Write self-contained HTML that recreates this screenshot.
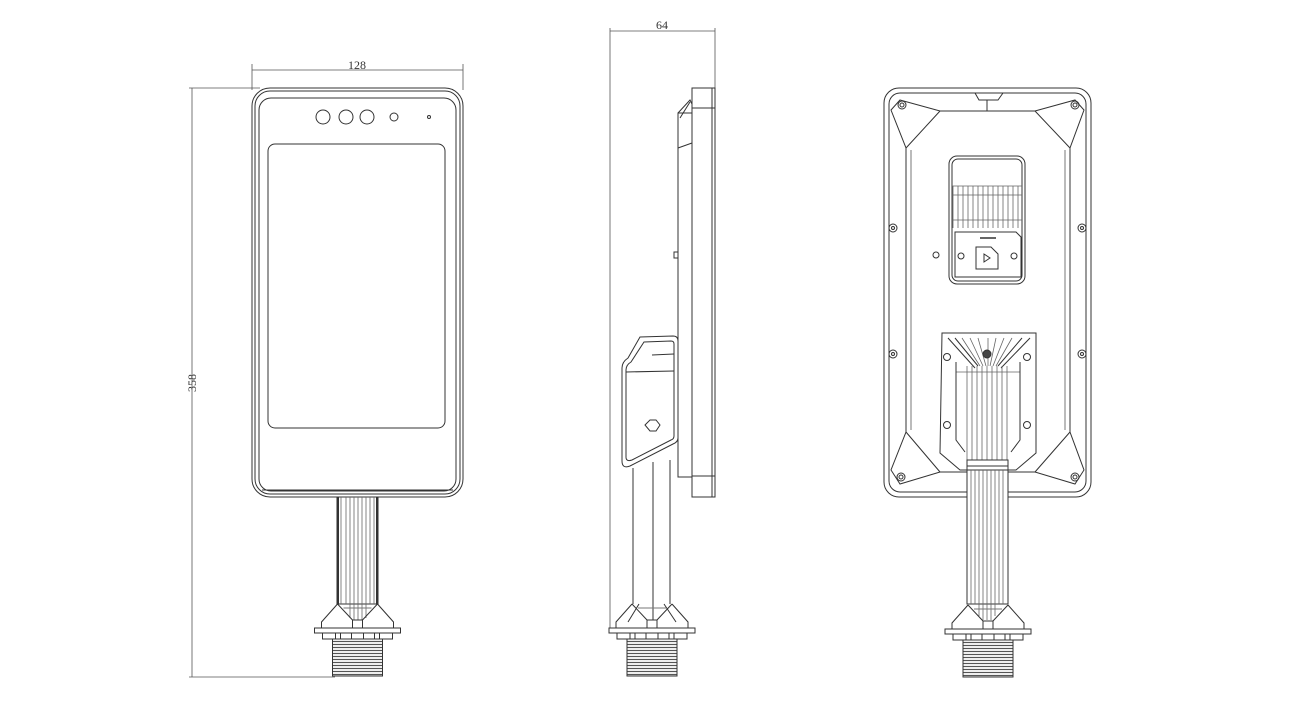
<!DOCTYPE html>
<html><head><meta charset="utf-8"><style>html,body{margin:0;padding:0;background:#fff}svg{display:block}</style></head>
<body>
<svg width="1300" height="716" viewBox="0 0 1300 716" xmlns="http://www.w3.org/2000/svg" fill="none" stroke="#333" stroke-width="1">
<defs>
<pattern id="thr" width="4" height="3" patternUnits="userSpaceOnUse"><rect width="4" height="3" fill="#fff" stroke="none"/><line x1="0" y1="1.5" x2="4" y2="1.5" stroke="#555" stroke-width="1.2"/></pattern>
<g id="base">
<path d="M-20,-24 L-36,-6 L-36,0 M20,-24 L36,-6 L36,0"/>
<path d="M-20,-24 L-5,-8 L-5,0 M20,-24 L5,-8 L5,0 M-5,-8 L5,-8"/>
<path d="M-14,-20 L14,-20" stroke="#777"/>
<rect x="-43" y="0" width="86" height="5" fill="#fff"/>
<rect x="-35" y="5" width="70" height="6"/>
<path d="M-22,5 v6 M-17,5 v6 M-6,5 v6 M6,5 v6 M17,5 v6 M22,5 v6"/>
<rect x="-25" y="11" width="50" height="37" fill="url(#thr)"/>
</g>
</defs>
<g font-family="Liberation Serif, serif" font-size="12" fill="#333" stroke="none">
<text x="357" y="69" text-anchor="middle">128</text>
<text x="662" y="29" text-anchor="middle">64</text>
<text x="0" y="0" transform="translate(196,383) rotate(-90)" text-anchor="middle">358</text>
</g>
<g stroke="#555" stroke-width="0.8">
<line x1="252" y1="70" x2="463" y2="70"/><line x1="252" y1="64" x2="252" y2="90"/><line x1="463" y1="64" x2="463" y2="90"/>
<line x1="192" y1="88" x2="192" y2="677"/><line x1="189" y1="88" x2="260" y2="88"/><line x1="189" y1="677" x2="335" y2="677"/>
<line x1="610" y1="31" x2="715" y2="31"/><line x1="610" y1="28" x2="610" y2="633"/><line x1="715" y1="28" x2="715" y2="90"/>
</g>
<!-- FRONT -->
<rect x="252" y="88" width="211" height="409" rx="18"/>
<rect x="255" y="91" width="205" height="403" rx="15"/>
<rect x="259" y="98" width="197" height="393" rx="12"/>
<line x1="262" y1="490" x2="453" y2="490"/>
<rect x="268" y="144" width="177" height="284" rx="7"/>
<circle cx="323" cy="117" r="7"/><circle cx="346" cy="117" r="7"/><circle cx="367" cy="117" r="7"/><circle cx="394" cy="117" r="4"/><circle cx="429" cy="117" r="1.5"/>
<rect x="337" y="497" width="41" height="107" fill="#fff"/>
<g stroke="#666" stroke-width="0.8"><path d="M341,497V604 M346,497V604 M350,497V618 M354,497V620 M358,497V620 M362,497V620 M366,497V618 M370,497V604 M374,497V604"/></g>
<line x1="338" y1="497" x2="338" y2="604" stroke-width="2"/><line x1="377" y1="497" x2="377" y2="604" stroke-width="2"/>
<use href="#base" x="357.5" y="628"/>
<!-- SIDE -->
<rect x="692" y="88" width="23" height="409"/>
<line x1="712" y1="88" x2="712" y2="497"/><line x1="692" y1="108" x2="715" y2="108"/><line x1="692" y1="476" x2="715" y2="476"/>
<rect x="678" y="113" width="14" height="364"/>
<path d="M678,113 L690,100 L692,104 M678,148 L692,143 M680,118 L690,102"/>
<line x1="678" y1="293" x2="678" y2="293"/><rect x="674" y="252" width="4" height="6"/>
<path d="M640,337 L673,336 Q678,336 678,341 L678,438 Q678,442 673,444 L630,466 Q622,469 622,461 L622,368 Q622,362 628,358 Z" fill="#fff"/>
<path d="M644,342 L671,341 Q674,341 674,344 L674,436 Q674,439 671,440 L632,460 Q626,462 626,457 L626,370 Q626,365 631,362 Z"/>
<line x1="626" y1="372" x2="674" y2="371"/><line x1="652" y1="355" x2="674" y2="354"/>
<polygon points="645,425 650,420 656,420 660,425 656,431 650,431"/>
<path d="M633,468 L633,604 M670,460 L670,604 M653,462 L653,620"/>
<path d="M639,604 L628,622 M664,604 L676,622"/>
<use href="#base" x="652" y="628"/>
<!-- BACK -->
<rect x="884" y="88" width="207" height="409" rx="15"/>
<rect x="889" y="93" width="197" height="399" rx="11"/>
<path d="M975,93 L979,100 L998,100 L1003,93"/>
<path d="M900,100 L940,111 L1035,111 L1075,100 L1084,110 L1070,148 L1070,432 L1084,470 L1075,484 L1035,472 L940,472 L900,484 L891,470 L906,432 L906,148 L891,110 Z"/>
<path d="M906,148 L940,111 M1070,148 L1035,111 M906,432 L940,472 M1070,432 L1035,472 M987,100 V111"/>
<path d="M911,150 V430 M1065,150 V430" stroke="#777"/>
<g>
<circle cx="902" cy="105" r="4"/><circle cx="902" cy="105" r="2"/>
<circle cx="1075" cy="105" r="4"/><circle cx="1075" cy="105" r="2"/>
<circle cx="893" cy="228" r="4"/><circle cx="893" cy="228" r="1.5"/>
<circle cx="1082" cy="228" r="4"/><circle cx="1082" cy="228" r="1.5"/>
<circle cx="893" cy="354" r="4"/><circle cx="893" cy="354" r="1.5"/>
<circle cx="1082" cy="354" r="4"/><circle cx="1082" cy="354" r="1.5"/>
<circle cx="901" cy="477" r="4"/><circle cx="901" cy="477" r="2"/>
<circle cx="1075" cy="477" r="4"/><circle cx="1075" cy="477" r="2"/>
</g>
<rect x="949" y="156" width="76" height="128" rx="8"/>
<rect x="952" y="159" width="70" height="122" rx="6"/>
<g stroke="#666" stroke-width="0.8"><path d="M953,186 V228 M958,186 V228 M963,186 V228 M968,186 V228 M973,186 V228 M978,186 V228 M983,186 V228 M988,186 V228 M993,186 V228 M998,186 V228 M1003,186 V228 M1008,186 V228 M1013,186 V228 M1018,186 V228"/>
<path d="M952,186 H1022 M952,195 H1022 M952,220 H1022"/></g>
<path d="M955,232 H1016 L1021,237 V277 H955 Z"/>
<line x1="980" y1="238" x2="996" y2="238" stroke-width="1.5"/>
<path d="M976,247 H991 L998,254 V269 H976 Z"/><path d="M984,254 L990,258 L984,262 Z"/>
<circle cx="961" cy="256" r="3"/><circle cx="1014" cy="256" r="3"/>
<circle cx="936" cy="255" r="3"/>
<path d="M942,333 H1036 V453 L1016,470 H960 L940,453 Z"/>
<path d="M948,338 L975,368 M1030,338 L1001,368 M955,338 L978,366 M1022,338 L998,366"/>
<g stroke="#666" stroke-width="0.8"><path d="M962,338 L980,366 M970,338 L983,366 M978,338 L986,366 M988,338 L988,366 M996,338 L990,366 M1004,338 L993,366 M1012,338 L996,366"/>
<path d="M956,372 H1020 M967,366 V460 M972,366 V460 M977,366 V460 M982,366 V460 M987,366 V460 M992,366 V460 M997,366 V460 M1002,366 V460 M1007,366 V460"/></g>
<path d="M956,362 V440 L965,452 M1020,362 V440 L1011,452"/>
<circle cx="987" cy="354" r="4" fill="#444"/>
<circle cx="947" cy="357" r="3.5"/><circle cx="1027" cy="357" r="3.5"/><circle cx="947" cy="425" r="3.5"/><circle cx="1027" cy="425" r="3.5"/>
<rect x="967" y="460" width="41" height="144" fill="#fff"/>
<path d="M967,466 H1008 M967,470 H1008"/>
<g stroke="#666" stroke-width="0.8"><path d="M971,470V604 M975,470V604 M979,470V616 M983,470V620 M987,470V620 M991,470V620 M995,470V616 M999,470V604 M1003,470V604"/></g>
<use href="#base" x="988" y="629"/>
</svg>
</body></html>
